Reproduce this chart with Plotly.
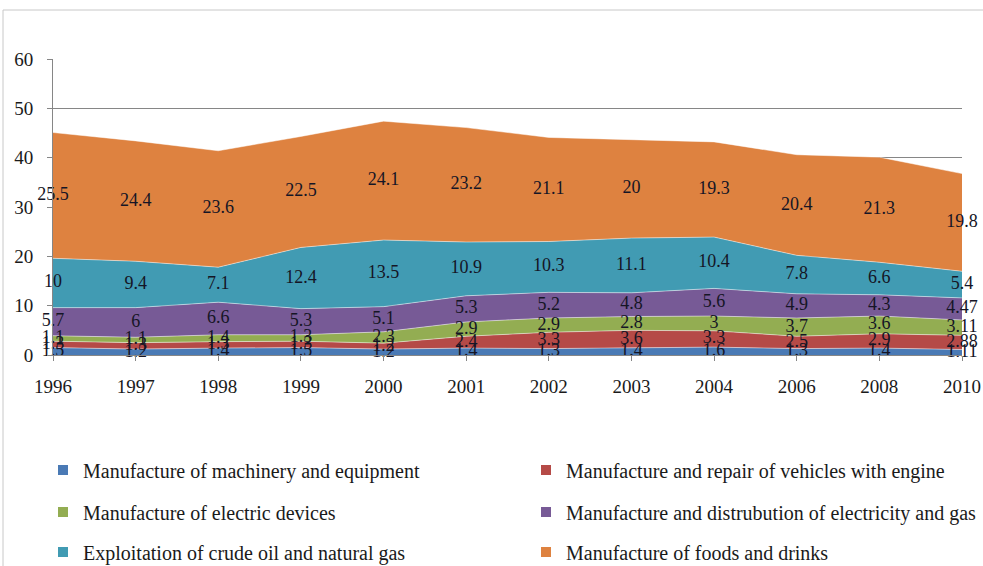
import plotly.graph_objects as go
import numpy as np

years = ["1996", "1997", "1998", "1999", "2000", "2001", "2002", "2003", "2004", "2006", "2008", "2010"]
machinery = [1.5, 1.2, 1.4, 1.5, 1.2, 1.4, 1.3, 1.4, 1.6, 1.3, 1.4, 1.11]
vehicles = [1.3, 1.3, 1.3, 1.3, 1.2, 2.4, 3.3, 3.6, 3.3, 2.5, 2.9, 2.88]
electric = [1.1, 1.1, 1.4, 1.3, 2.3, 2.9, 2.9, 2.8, 3.0, 3.7, 3.6, 3.11]
electricity_gas = [5.7, 6.0, 6.6, 5.3, 5.1, 5.3, 5.2, 4.8, 5.6, 4.9, 4.3, 4.47]
crude_oil = [10, 9.4, 7.1, 12.4, 13.5, 10.9, 10.3, 11.1, 10.4, 7.8, 6.6, 5.4]
foods = [25.5, 24.4, 23.6, 22.5, 24.1, 23.2, 21.1, 20, 19.3, 20.4, 21.3, 19.8]

series = [
    ("Manufacture of machinery and equipment", machinery, "#4A7AB5"),
    ("Manufacture and repair of vehicles with engine", vehicles, "#B54A47"),
    ("Manufacture of electric devices", electric, "#93AD52"),
    ("Manufacture and distrubution of electricity and gas", electricity_gas, "#775A96"),
    ("Exploitation of crude oil and natural gas", crude_oil, "#419BB3"),
    ("Manufacture of foods and drinks", foods, "#DE8240"),
]

FONT = "Liberation Serif, Times New Roman, serif"
W, H = 983, 566
fig = go.Figure()

cum = np.zeros(len(years))
label_x, label_y, label_t = [], [], []
for name, vals, col in series:
    v = np.array(vals, dtype=float)
    fig.add_trace(go.Scatter(
        x=years, y=vals, stackgroup="one", mode="lines",
        line=dict(width=0.8, color="rgba(255,255,255,0.6)"), fillcolor=col,
        name=name, showlegend=False, hoverinfo="skip"))
    mids = cum + v / 2
    cum = cum + v
    label_x += years
    label_y += list(mids)
    label_t += [f"{x:g}" for x in vals]

fig.add_trace(go.Scatter(
    x=label_x, y=label_y, text=label_t, mode="text",
    textfont=dict(family=FONT, size=18, color="#151525"),
    showlegend=False, hoverinfo="skip", cliponaxis=False))

# legend slots: (x px of legend box, y px centre of row)
slots = [(43, 470), (526, 470), (43, 512), (526, 512), (43, 552), (526, 552)]
legend_layout = {}
for i, ((name, vals, col), (lx, ly)) in enumerate(zip(series, slots)):
    key = "legend" if i == 0 else f"legend{i + 1}"
    fig.add_trace(go.Scatter(
        x=[None], y=[None], mode="markers", name=name,
        marker=dict(symbol="square", size=10, color=col),
        legend=key))
    legend_layout[key] = dict(
        xref="container", yref="container", x=lx / W, y=1 - ly / H,
        xanchor="left", yanchor="middle", orientation="h",
        font=dict(family=FONT, size=20, color="#1a1a1a"),
        itemwidth=30, bgcolor="rgba(0,0,0,0)")

fig.update_layout(
    width=W, height=H,
    margin=dict(l=53, r=21, t=59, b=211, autoexpand=False),
    paper_bgcolor="white", plot_bgcolor="white",
    font=dict(family=FONT, size=19, color="#1a1a1a"),
    xaxis=dict(type="category", range=[0, len(years) - 1], showgrid=False,
               showline=True, linecolor="#868686", ticks="outside", ticklen=5,
               tickcolor="#868686", tickfont=dict(family=FONT, size=19),
               ticklabelstandoff=9, tickangle=0),
    yaxis=dict(range=[0, 60], dtick=10, showgrid=True, gridcolor="#868686",
               gridwidth=1, showline=True, linecolor="#868686", ticks="outside",
               ticklen=5, tickcolor="#868686", zeroline=False,
               tickfont=dict(family=FONT, size=19), ticklabelstandoff=10),
    shapes=[dict(type="rect", xref="paper", yref="paper",
                 x0=(3 - 53) / 909, x1=1.1, y0=-1.0, y1=(355 - 10) / 296,
                 line=dict(color="#C8C8C8", width=1))],
    **legend_layout,
)

fig.write_html("out.html", config={"displayModeBar": False},
               post_script="document.body.style.margin='0';document.body.style.overflow='hidden';")
